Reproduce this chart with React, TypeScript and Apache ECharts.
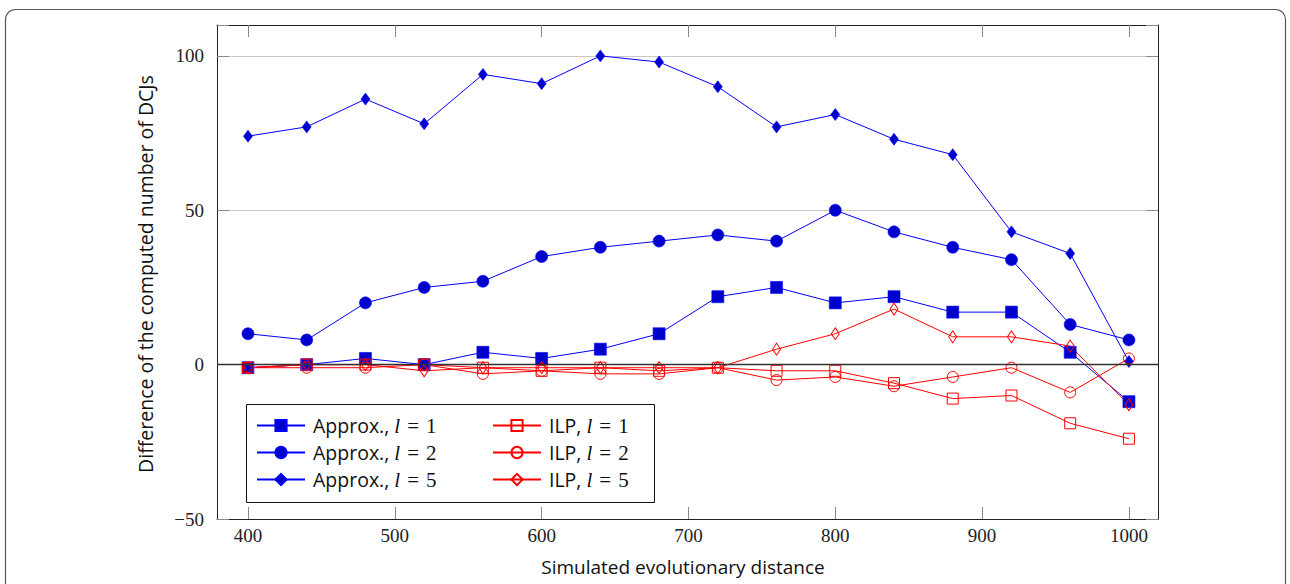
import React, { useEffect, useRef } from "react";
import * as echarts from "echarts";

// ---- data ----
const distances = [400, 440, 480, 520, 560, 600, 640, 680, 720, 760, 800, 840, 880, 920, 960, 1000];
const approxL1 = [-1, 0, 2, 0, 4, 2, 5, 10, 22, 25, 20, 22, 17, 17, 4, -12];
const approxL2 = [10, 8, 20, 25, 27, 35, 38, 40, 42, 40, 50, 43, 38, 34, 13, 8];
const approxL5 = [74, 77, 86, 78, 94, 91, 100, 98, 90, 77, 81, 73, 68, 43, 36, 1];
const ilpL1 = [-1, 0, 0, 0, -1, -2, -1, -2, -1, -2, -2, -6, -11, -10, -19, -24];
const ilpL2 = [-1, -1, -1, 0, -3, -2, -3, -3, -1, -5, -4, -7, -4, -1, -9, 2];
const ilpL5 = [-1, 0, 0, -2, -1, -1, -1, -1, -1, 5, 10, 18, 9, 9, 6, -13];

const seriesNames = [
  "Approx., l = 1",
  "Approx., l = 2",
  "Approx., l = 5",
  "ILP, l = 1",
  "ILP, l = 2",
  "ILP, l = 5",
];
const xTicks = [400, 500, 600, 700, 800, 900, 1000];
const yTitle = "Difference of the computed number of DCJs";
const xTitle = "Simulated evolutionary distance";

const SANS = '"Open Sans", Lato, "DejaVu Sans", sans-serif';
const SERIF = '"Liberation Serif", "DejaVu Serif", serif';

const BLUE_LINE = "#0000ff";
const BLUE_FILL = "#0000cc";
const RED = "#ff0000";

function pairs(vals: number[]) {
  return distances.map((d, i) => [d, vals[i]]);
}

function fmtLegend(name: string) {
  const m = name.match(/^(.*), l = (\d+)$/);
  if (!m) return name;
  return `{a|${m[1]}, }{m|l}{b|\u2004=\u2004${m[2]}}`;
}

export default function App() {
  const ref = useRef<HTMLDivElement>(null);

  useEffect(() => {
    if (!ref.current) return;
    const chart = echarts.init(ref.current, null, { renderer: "svg" });

    const blue = (name: string, vals: number[], symbol: string, size: any) => ({
      name,
      type: "line",
      data: pairs(vals),
      symbol,
      symbolSize: size,
      showSymbol: true,
      showAllSymbol: true,
      lineStyle: { color: BLUE_LINE, width: 1 },
      itemStyle: { color: BLUE_FILL, borderColor: BLUE_LINE, borderWidth: 0.6 },
      emphasis: { disabled: true },
    });
    const red = (name: string, vals: number[], symbol: string, size: any) => ({
      name,
      type: "line",
      data: pairs(vals),
      symbol,
      symbolSize: size,
      showSymbol: true,
      showAllSymbol: true,
      lineStyle: { color: RED, width: 1 },
      itemStyle: { color: "rgba(255,255,255,0)", borderColor: RED, borderWidth: 1 },
      emphasis: { disabled: true },
    });

    const legendBase = {
      orient: "vertical",
      top: 415,
      itemWidth: 48,
      itemHeight: 14,
      itemGap: 6,
      padding: 0,
      selectedMode: false,
      formatter: fmtLegend,
      textStyle: {
        fontFamily: SANS,
        fontSize: 19.5,
        color: "#111",
        lineHeight: 20,
        padding: [0, 0, 0, 3],
        rich: {
          a: { fontFamily: SANS, fontSize: 19.5, color: "#111", lineHeight: 20 },
          m: { fontFamily: SERIF, fontStyle: "italic", fontSize: 21, color: "#111", lineHeight: 20 },
          b: { fontFamily: SERIF, fontSize: 21, color: "#111", lineHeight: 20 },
        },
      },
    };

    const xAxisBase = {
      type: "value",
      min: 378.9,
      max: 1019.8,
      axisLine: { show: true, onZero: false, lineStyle: { color: "#222", width: 1 } },
      axisTick: { show: true, inside: true, length: 12, customValues: xTicks, lineStyle: { color: "#888", width: 1 } },
      splitLine: { show: false },
    };
    const yAxisBase = {
      type: "value",
      min: -50,
      max: 110,
      interval: 50,
      axisLine: { show: true, onZero: false, lineStyle: { color: "#222", width: 1 } },
      axisTick: { show: true, inside: true, length: 12, lineStyle: { color: "#888", width: 1 } },
    };

    chart.setOption({
      animation: false,
      backgroundColor: "#ffffff",
      grid: { left: 217, right: 132, top: 25, bottom: 65, containLabel: false },
      xAxis: [
        {
          ...xAxisBase,
          position: "bottom",
          axisLabel: {
            customValues: xTicks,
            fontFamily: SERIF,
            fontSize: 19,
            color: "#222",
            margin: 7,
            formatter: (v: number) => String(v),
          },
        },
        { ...xAxisBase, position: "top", axisLabel: { show: false } },
      ],
      yAxis: [
        {
          ...yAxisBase,
          position: "left",
          axisLabel: {
            fontFamily: SERIF,
            fontSize: 19,
            color: "#222",
            margin: 13,
            formatter: (v: number) =>
              v % 50 !== 0 ? "" : v < 0 ? "\u2212" + Math.abs(v) : String(v),
          },
          splitLine: { show: true, lineStyle: { color: "#c8c8c8", width: 1 } },
        },
        { ...yAxisBase, position: "right", axisLabel: { show: false }, splitLine: { show: false } },
      ],
      legend: [
        { ...legendBase, left: 256, data: seriesNames.slice(0, 3) },
        { ...legendBase, left: 492, data: seriesNames.slice(3) },
      ],
      series: [
        {
          ...blue(seriesNames[0], approxL1, "rect", 12),
          markLine: {
            silent: true,
            symbol: "none",
            label: { show: false },
            lineStyle: { color: "#333", width: 1.3, type: "solid" },
            data: [{ yAxis: 0 }],
          },
        },
        blue(seriesNames[1], approxL2, "circle", 12),
        blue(seriesNames[2], approxL5, "diamond", [9, 12]),
        red(seriesNames[3], ilpL1, "rect", 11),
        red(seriesNames[4], ilpL2, "circle", 11),
        red(seriesNames[5], ilpL5, "diamond", [8, 12]),
      ],
      graphic: [
        {
          type: "rect",
          z: -10,
          shape: { x: 5.5, y: 9.5, width: 1280, height: 620, r: 10 },
          style: { fill: "none", stroke: "#555", lineWidth: 1.2 },
        },
        {
          type: "rect",
          z: 3,
          shape: { x: 246.5, y: 404.5, width: 408, height: 98 },
          style: { fill: "#fff", stroke: "#111", lineWidth: 1 },
        },
        {
          type: "text",
          x: 145,
          y: 274,
          rotation: Math.PI / 2,
          style: {
            text: yTitle,
            font: `19.5px ${SANS}`,
            fill: "#111",
            textAlign: "center",
            textVerticalAlign: "middle",
          },
        },
        {
          type: "text",
          x: 683,
          y: 567,
          style: {
            text: xTitle,
            font: `19px ${SANS}`,
            fill: "#111",
            textAlign: "center",
            textVerticalAlign: "middle",
          },
        },
      ],
    });

    return () => chart.dispose();
  }, []);

  return (
    <div
      ref={ref}
      style={{ position: "absolute", left: 0, top: 0, width: 1290, height: 584, background: "#fff" }}
    />
  );
}
